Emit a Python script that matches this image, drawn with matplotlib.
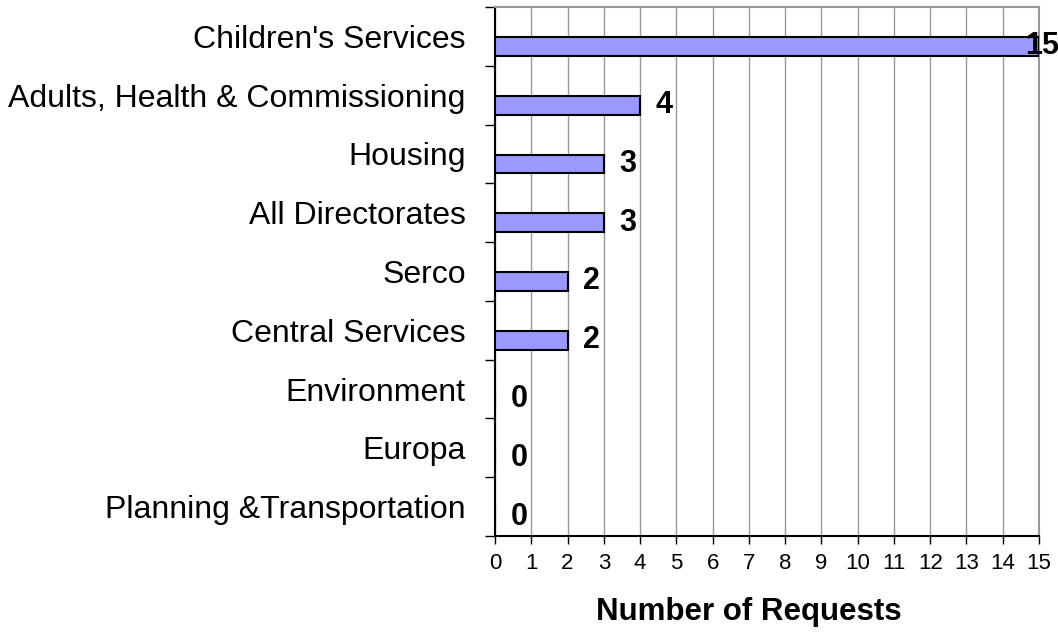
import matplotlib
matplotlib.use("Agg")
import matplotlib.pyplot as plt
import numpy as np

# Requests by directorate
directorates = ["Children's Services", "Adults, Health & Commissioning", "Housing",
                "All Directorates", "Serco", "Central Services", "Environment",
                "Europa", "Planning &Transportation"]
requests = [15, 4, 3, 3, 2, 2, 0, 0, 0]
x_ticks = list(range(0, 16))

plt.rcParams['font.family'] = ['Liberation Sans', 'DejaVu Sans']

fig = plt.figure(figsize=(10.58, 6.32), dpi=100)
ax = fig.add_axes([495/1058, 96/632, 544/1058, 529/632])

pos = np.arange(len(directorates))
bar_shift = 0.17  # bars sit in the lower part of each row
ax.barh(pos + bar_shift, requests, height=0.32, color="#9999FF",
        edgecolor="black", linewidth=1.5, zorder=3)

for p, v in zip(pos, requests):
    off = -10 if v == max(requests) else 11
    ax.annotate(str(v), (v, p + bar_shift), xytext=(off, 0), textcoords="offset points",
                ha="left", va="center", fontsize=22, fontweight="bold",
                annotation_clip=False, zorder=4)

ax.set_xlim(0, 15)
ax.set_ylim(len(directorates) - 0.5, -0.5)
ax.set_xticks(x_ticks)
ax.tick_params(axis="x", labelsize=16, length=6, width=1, pad=6, direction="out")

# category names at row centres, tick marks at row boundaries
ax.set_yticks(pos)
ax.set_yticklabels(directorates, fontsize=23)
ax.tick_params(axis="y", which="major", length=0, pad=21)
ax.set_yticks(np.arange(-0.5, len(directorates), 1), minor=True)
ax.tick_params(axis="y", which="minor", length=7, width=1, direction="out")

ax.grid(axis="x", color="#999999", linewidth=1, zorder=0)
ax.set_axisbelow(True)
for side in ["top", "right"]:
    ax.spines[side].set_color("#999999")
    ax.spines[side].set_linewidth(1.5)
for side in ["left", "bottom"]:
    ax.spines[side].set_color("black")
    ax.spines[side].set_linewidth(1.5)

ax.set_xlabel("Number of Requests", fontsize=22.5, fontweight="bold", va="center")
ax.xaxis.set_label_coords(0.467, -0.144)

fig.savefig("out.png", dpi=100)
